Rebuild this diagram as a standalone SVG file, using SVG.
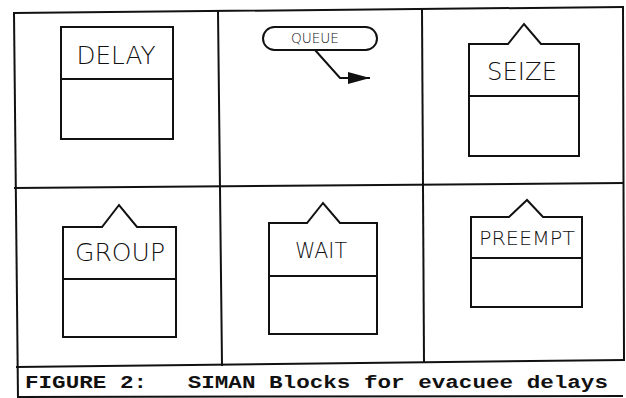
<svg xmlns="http://www.w3.org/2000/svg" width="626" height="398" viewBox="0 0 626 398">
<defs>
<style>
.grid{stroke:#111;stroke-width:2;fill:none;stroke-linecap:square}
.blk{stroke:#111;stroke-width:2;fill:none;stroke-linejoin:miter}
.lbl{font-family:"DejaVu Sans","Liberation Sans",sans-serif;font-weight:200;fill:#111;text-anchor:middle}
.cap{font-family:"Liberation Mono","Courier New",monospace;font-weight:bold;fill:#111;font-size:18px}
</style>
<marker id="ah" viewBox="0 0 22 12" refX="22" refY="6" markerWidth="22" markerHeight="12" markerUnits="userSpaceOnUse" orient="auto">
<path d="M0,0 L22,6 L0,12 Z" fill="#111"/>
</marker>
</defs>
<rect width="626" height="398" fill="#fff"/>
<g id="frame" class="grid">
<line x1="14" y1="13" x2="623" y2="7"/>
<line x1="14" y1="13" x2="18" y2="398"/>
<line x1="623" y1="7" x2="624" y2="360"/>
<line x1="15" y1="188" x2="623" y2="183"/>
<line x1="17" y1="367" x2="624" y2="360"/>
<line x1="218" y1="11" x2="222" y2="365"/>
<line x1="422" y1="9" x2="424" y2="362"/>
<line x1="18" y1="397" x2="622" y2="396"/>
</g>
<g id="delay">
<path class="blk" d="M61,27 H173 V139 H61 Z M61,79 H173"/>
<text class="lbl" x="116" y="64" font-size="25" textLength="79" lengthAdjust="spacingAndGlyphs">DELAY</text>
</g>
<g id="queue">
<rect class="blk" x="263" y="27" width="114" height="23" rx="11.5"/>
<text class="lbl" x="315" y="43" font-size="14" textLength="48" lengthAdjust="spacingAndGlyphs">QUEUE</text>
</g>
<g id="seize">
<path class="blk" d="M469,44 H508 L524,24 L541,44 H579 V156 H469 Z M469,96 H579"/>
<text class="lbl" x="522" y="80" font-size="25" textLength="70" lengthAdjust="spacingAndGlyphs">SEIZE</text>
</g>
<g id="group">
<path class="blk" d="M63,227 H102 L119,205 L137,227 H176 V337 H63 Z M63,279 H176"/>
<text class="lbl" x="120" y="261" font-size="25" textLength="90" lengthAdjust="spacingAndGlyphs">GROUP</text>
</g>
<g id="wait">
<path class="blk" d="M269,223 H307 L323,203 L340,223 H377 V334 H269 Z M269,276 H377"/>
<text class="lbl" x="321" y="258" font-size="22" textLength="52" lengthAdjust="spacingAndGlyphs">WAIT</text>
</g>
<g id="preempt">
<path class="blk" d="M471,217 H509 L527,200 L543,217 H582 V307 H471 Z M471,258 H582"/>
<text class="lbl" x="527" y="245" font-size="20" textLength="96" lengthAdjust="spacingAndGlyphs">PREEMPT</text>
</g>
<g id="connectors">
<path class="blk" d="M315,50 L340,78 L370,78" marker-end="url(#ah)" stroke-width="1.5"/>
</g>
<g id="caption">
<text class="cap" x="25" y="388" textLength="583" lengthAdjust="spacingAndGlyphs" xml:space="preserve">FIGURE 2:   SIMAN Blocks for evacuee delays</text>
</g>
</svg>
